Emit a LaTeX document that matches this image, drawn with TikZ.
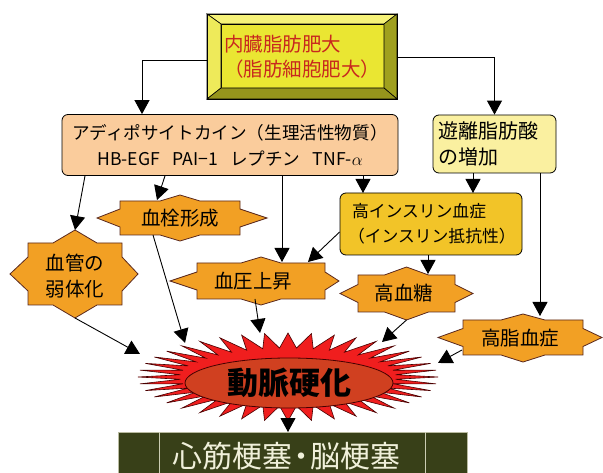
\documentclass[tikz,border=0pt]{standalone}
\usepackage{fontspec}
\setmainfont{Noto Sans CJK JP}
\usetikzlibrary{arrows.meta,calc,shapes.geometric}
\definecolor{badgeorange}{RGB}{242,160,36}
\definecolor{badgeline}{RGB}{90,40,30}
\definecolor{adipofill}{RGB}{250,204,156}
\definecolor{yuurifill}{RGB}{250,240,160}
\definecolor{insfill}{RGB}{242,196,40}
\definecolor{topinner}{RGB}{234,230,50}
\definecolor{bevtop}{RGB}{246,242,120}
\definecolor{bevleft}{RGB}{238,234,90}
\definecolor{bevright}{RGB}{160,160,30}
\definecolor{bevbottom}{RGB}{150,148,28}
\definecolor{toptextcol}{RGB}{200,40,30}
\definecolor{burstred}{RGB}{240,30,30}
\definecolor{burstline}{RGB}{70,0,0}
\definecolor{ellfill}{RGB}{208,64,32}
\definecolor{midark}{RGB}{56,64,24}
\definecolor{cream}{RGB}{240,240,218}
\tikzset{
  arr/.style={line width=0.9pt, -{Triangle[width=15pt,length=14pt]}},
  badgeshape/.style={fill=badgeorange, draw=badgeline, line width=0.8pt},
  bevel/.style={draw=black, line width=0.6pt},
  lbl/.style={inner sep=0pt, align=center, text=black, font=\fontsize{19.5}{26}\selectfont},
  roundbox/.style={draw=black, line width=0.8pt, rounded corners=6pt, inner sep=0pt}
}
% #1 centre, #2 half width, #3 half height, #4 left spike, #5 right spike,
% #6 spike half height, #7 top bump, #8 bottom bump, #9 bump half width
\newcommand\badgepoly[9]{%
\begin{scope}[shift={(#1)}]
\draw[badgeshape] (-#2,-#3) -- (-#9,-#3) -- (0,-#3-#7) -- (#9,-#3) -- (#2,-#3)
 -- (#2,-#6) -- (#2+#5,0) -- (#2,#6) -- (#2,#3) -- (#9,#3) -- (0,#3+#8)
 -- (-#9,#3) -- (-#2,#3) -- (-#2,#6) -- (-#2-#4,0) -- (-#2,-#6) -- cycle;
\coordinate (#1-n) at (0,-#3-#7);
\coordinate (#1-s) at (0,#3+#8);
\end{scope}}
\begin{document}
\begin{tikzpicture}[x=1pt,y=-1pt]
\useasboundingbox (0,0) rectangle (603,473);
\fill[white] (0,0) rectangle (603,473);

% ---- top bevelled box
\fill[topinner, bevel] (221,24) rectangle (384,88);
\filldraw[bevtop, bevel] (207,14) -- (397,14) -- (384,24) -- (221,24) -- cycle;
\filldraw[bevleft, bevel] (207,14) -- (221,24) -- (221,88) -- (207,99) -- cycle;
\filldraw[bevright, bevel] (397,14) -- (397,99) -- (384,88) -- (384,24) -- cycle;
\filldraw[bevbottom, bevel] (207,99) -- (397,99) -- (384,88) -- (221,88) -- cycle;
\draw[line width=0.9pt] (207,14) rectangle (397,99);
\node[minimum width=190pt, minimum height=85pt, inner sep=0pt, text width=156pt,
      align=left, text=toptextcol, font=\fontsize{19.5}{25}\selectfont] (top) at (302,56.5)
      {内臓脂肪肥大\\（脂肪細胞肥大）};

% ---- boxes
\node[roundbox, fill=adipofill, minimum width=336pt, minimum height=61pt, align=center,
      font=\fontsize{17.6}{26}\selectfont] (adipo) at (230,145)
      {アディポサイトカイン（生理活性物質）\\HB-EGF\hspace{0.7em}PAI−1\hspace{0.7em}レプチン\hspace{0.7em}TNF-$\alpha$};
\node[roundbox, fill=yuurifill, minimum width=123pt, minimum height=58pt, text width=113pt,
      align=left, font=\fontsize{20}{26}\selectfont] (yuuri) at (494.5,144)
      {遊離脂肪酸\\の増加};
\node[roundbox, fill=insfill, minimum width=182pt, minimum height=62pt, text width=166pt,
      align=left, font=\fontsize{16.8}{25}\selectfont] (ins) at (431,224)
      {\hspace{4pt}高インスリン血症\\（インスリン抵抗性）};

% ---- badges
\coordinate (kessenC) at (180,218);
\badgepoly{kessenC}{60}{17}{23}{27}{9}{6}{6}{20}
\node[lbl] (kessen) at (180,218) {血栓形成};

\coordinate (kekkanC) at (75,274);
\badgepoly{kekkanC}{47}{31}{18}{16}{17}{13}{13}{22}
\node[lbl] (kekkan) at (75,276) {血管の\\弱体化};

\coordinate (katC) at (261,281);
\badgepoly{katC}{64}{18}{27}{14}{9}{6}{6}{20}
\node[lbl] (kat) at (253,281) {血圧上昇};

\coordinate (kkC) at (406.5,293.5);
\badgepoly{kkC}{48.5}{18.5}{18}{18}{9}{8}{8}{22}
\node[lbl] (kk) at (404,293.5) {高血糖};

\coordinate (koushiC) at (523,337.5);
\badgepoly{koushiC}{60}{17.5}{25}{19}{9}{6}{7}{22}
\node[lbl] (koushi) at (520,338) {高脂血症};

% ---- burst
\draw[fill=burstred, draw=burstline, line width=0.6pt] (438,377)
  \foreach \i [evaluate=\i as \rx using 129+21*cos(\i*180),
               evaluate=\i as \ry using 36.5+7.5*cos(\i*180)] in {1,...,79}
  { -- ({288+\rx*cos(\i*4.5)},{377+\ry*sin(\i*4.5)}) } -- cycle;
\node[ellipse, draw=burstline, line width=0.8pt, fill=ellfill, minimum width=208pt,
      minimum height=50pt, inner sep=0pt, font=\fontsize{31}{31}\selectfont\bfseries]
      (burst) at (289,383) {動脈硬化};

% ---- bottom box
\node[fill=midark, draw=cream!70!midark, line width=0.6pt, minimum width=349pt,
      minimum height=48pt, anchor=north, inner sep=0pt, text=cream,
      font=\fontsize{30}{30}\selectfont] (mi) at (292.5,432) {\hspace{-12pt}心筋梗塞\hspace{-6pt}・\hspace{-6pt}脳梗塞};
\draw[cream!80!midark, line width=0.7pt] ([xshift=42pt]mi.north west) -- ([xshift=42pt]mi.south west);
\draw[cream!80!midark, line width=0.7pt] ([xshift=-42pt]mi.north east) -- ([xshift=-42pt]mi.south east);

% ---- arrow end points
\coordinate (kessenIn) at (157,200);
\coordinate (katIn) at (282,262);
\coordinate (katIn2) at (308,262);
\coordinate (insIn1) at (363,193);
\coordinate (insIn2) at (473,193);
\coordinate (koushiIn) at (540,316);
\coordinate (kkIn) at (428,274);
\coordinate (kessenOut) at (153,235);
\coordinate (katOut) at (255,299);
\coordinate (koushiOut) at (462,350);
\coordinate (bIn1) at (140,354);
\coordinate (bIn2) at (185,343);
\coordinate (bIn3) at (260,333);
\coordinate (bIn4) at (382,342);
\coordinate (bIn5) at (438,363);
\coordinate (bOut) at (288,418);

% ---- arrows
\draw[arr] ([yshift=-3.5pt]top.west) -| ([xshift=-88pt]adipo.north);
\draw[arr] ([yshift=-0.5pt]top.east) -| (yuuri.north);
\draw[arr] ([xshift=-145pt]adipo.south) -- (kekkanC-n);
\draw[arr] ([xshift=-65pt]adipo.south) -- (kessenIn);
\draw[arr] (adipo.south -| katIn) -- (katIn);
\draw[arr] (adipo.south -| insIn1) -- (insIn1);
\draw[arr] (yuuri.south -| insIn2) -- (insIn2);
\draw[arr] (yuuri.south -| koushiIn) -- (koushiIn);
\draw[arr] ([yshift=-8pt]ins.west) -- (katIn2);
\draw[arr] (ins.south -| kkIn) -- (kkIn);
\draw[arr] (kekkanC-s) -- (bIn1);
\draw[arr] (kessenOut) -- (bIn2);
\draw[arr] (katOut) -- (bIn3);
\draw[arr] (kkC-s) -- (bIn4);
\draw[arr] (koushiOut) -- (bIn5);
\draw[arr] (bOut) -- (mi.north -| bOut);
\end{tikzpicture}
\end{document}
